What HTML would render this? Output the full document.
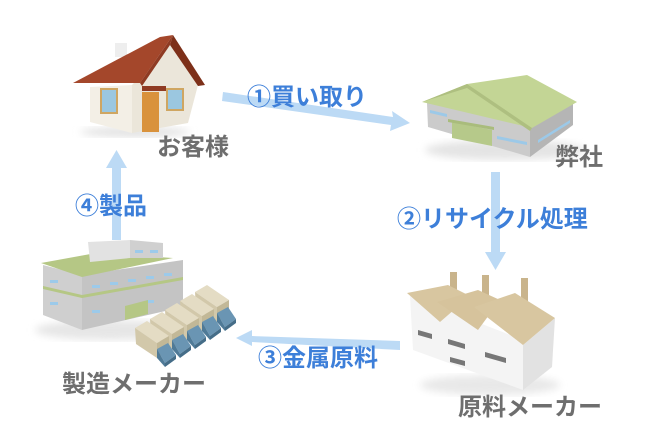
<!DOCTYPE html>
<html><head><meta charset="utf-8"><style>
html,body{margin:0;padding:0;background:#fff}
svg{display:block}
.lb{font-family:"Liberation Sans","Noto Sans CJK JP",sans-serif;font-weight:bold;fill:#3d7fd9;font-size:24px}
.gl{font-family:"Liberation Sans","Noto Sans CJK JP",sans-serif;font-weight:bold;fill:#6e6e6e;font-size:24px}
</style></head><body>
<svg width="650" height="440" viewBox="0 0 650 440" xmlns="http://www.w3.org/2000/svg">
<defs><filter id="b"><feGaussianBlur stdDeviation="4"/></filter>
<g id="t">
<polygon points="135,328 147,321 169,336 157,343" fill="#e4dcc4"/>
<polygon points="135,328 157,343 157,358 136,344" fill="#d2c8aa"/>
<polygon points="157,343 169,336 169,350 157,358" fill="#c2b897"/>
<polygon points="157,349 168,343 176,355 165,363" fill="#6a95b3"/>
<polygon points="157,349 165,363 165,367 157,358" fill="#4f7a97"/>
<polygon points="165,363 176,355 176,359 165,367" fill="#456d88"/>
</g></defs>
<g fill="#bcdaf5">
<polygon points="223,92 393,117 392,111 410,123 390,131 391,125 222,101"/>
<polygon points="491,172 500,172 500,252 506,252 495.5,270 485,252 491,252"/>
<polygon points="400,341 252,336 252,330 236,338 252,346 252,342 400,350"/>
<polygon points="112,240 121,240 121,168 127,168 116.5,150 106,168 112,168"/>
</g>
<ellipse cx="135" cy="132" rx="55" ry="5" fill="#e2e2e2" filter="url(#b)"/>
<polygon points="90,87 132,85 132,133 90,122" fill="#f3efe6"/>
<polygon points="132,85 170,45 198,85 188,123 132,133" fill="#ebe6da"/>
<rect x="115" y="43" width="12" height="14" fill="#eee"/>
<polygon points="73,83 160,37 173,35 140,83" fill="#a4472b"/>
<polygon points="173,35 205,85 198,86 170,45" fill="#7d3019"/>
<polygon points="140,83 173,35 170,45 142,86" fill="#8f3b23"/>
<rect x="101" y="89" width="16" height="24" fill="#9bc7e0" stroke="#cfa662" stroke-width="2"/>
<rect x="167" y="89" width="16" height="21" fill="#9bc7e0" stroke="#cfa662" stroke-width="2"/>
<rect x="142" y="92" width="17" height="40" fill="#d9923c"/>
<rect x="142" y="86" width="24" height="5" fill="#8f3b23"/>
<text class="gl" x="157" y="155">お客様</text>
<text class="lb" x="247" y="105">①買い取り</text>
<ellipse cx="505" cy="150" rx="80" ry="10" fill="#e4e4e4" filter="url(#b)"/>
<polygon points="427,103 467,88 530,128 530,157 428,127" fill="#cbcbcb"/>
<polygon points="530,128 573,103 573,125 530,157" fill="#b5b5b5"/>
<polygon points="422,102 467,84 527,75 577,102 532,128" fill="#c3d595"/>
<polygon points="422,102 467,84 532,128 530,131 467,88" fill="#aebf80"/>
<polygon points="452,122 492,130 492,146 452,138" fill="#b6c98a"/>
<polygon points="448,119 494,127 494,130 448,122" fill="#a9bc7c"/>
<polygon points="430,110 447,114 447,117 430,113" fill="#9cc9e8"/>
<polygon points="497,136 527,142 527,145 497,139" fill="#9cc9e8"/>
<polygon points="538,140 570,120 570,123 538,143" fill="#9cc9e8"/>
<text class="gl" x="555" y="165">弊社</text>
<text class="lb" x="397" y="227">②リサイクル処理</text>
<ellipse cx="490" cy="385" rx="70" ry="10" fill="#e8e8e8" filter="url(#b)"/>
<polygon points="410,296 523,340 523,390 413,350" fill="#f4f4f4"/>
<polygon points="523,345 555,318 552,367 523,390" fill="#e2e2e2"/>
<rect x="450" y="272" width="7" height="20" fill="#c9b48c"/>
<rect x="482" y="275" width="7" height="22" fill="#c9b48c"/>
<rect x="521" y="278" width="7" height="30" fill="#c9b48c"/>
<polygon points="407,293 448,285 470,296 440,322" fill="#d8c6a0"/>
<polygon points="437,302 478,290 500,300 478,330" fill="#d6c39c"/>
<polygon points="474,307 515,293 555,318 523,345" fill="#d8c6a0"/>
<g fill="#777">
<polygon points="418,330 432,334 432,339 418,335"/>
<polygon points="448,339 465,344 465,349 448,344"/>
<polygon points="485,352 506,358 506,363 485,357"/>
<polygon points="450,357 465,361 465,366 450,362"/>
</g>
<text class="gl" x="458" y="415">原料メーカー</text>
<text class="lb" x="258" y="366">③金属原料</text>
<ellipse cx="110" cy="330" rx="75" ry="10" fill="#e6e6e6" filter="url(#b)"/>
<polygon points="43,265 82,275 82,330 43,315" fill="#cfcfcf"/>
<polygon points="82,275 183,260 183,307 82,330" fill="#c4c4c4"/>
<polygon points="41,263 96,253 173,258 82,277" fill="#b5c785"/>
<polygon points="88,242 130,240 130,258 90,262" fill="#e2e2e2"/>
<polygon points="130,240 163,243 163,258 130,258" fill="#d0d0d0"/>
<polygon points="43,286 82,295 183,277 183,280 82,298 43,289" fill="#b5c785"/>
<g fill="#9ccaea">
<rect x="92" y="285" width="8" height="3"/><rect x="110" y="282" width="8" height="3"/><rect x="128" y="279" width="8" height="3"/><rect x="146" y="276" width="8" height="3"/><rect x="164" y="273" width="8" height="3"/>
<rect x="92" y="310" width="8" height="3"/><rect x="146" y="300" width="8" height="3"/><rect x="50" y="280" width="8" height="3"/><rect x="50" y="302" width="8" height="3"/>
<rect x="135" y="250" width="8" height="3"/><rect x="150" y="250" width="8" height="3"/>
</g>
<polygon points="125,306 148,300 148,314 125,320" fill="#b5c785"/>
<use href="#t" x="60" y="-36"/>
<use href="#t" x="45" y="-27"/>
<use href="#t" x="30" y="-18"/>
<use href="#t" x="15" y="-9"/>
<use href="#t" x="0" y="0"/>
<text class="gl" x="62" y="392">製造メーカー</text>
<text class="lb" x="75" y="214">④製品</text>
</svg>
</body></html>
